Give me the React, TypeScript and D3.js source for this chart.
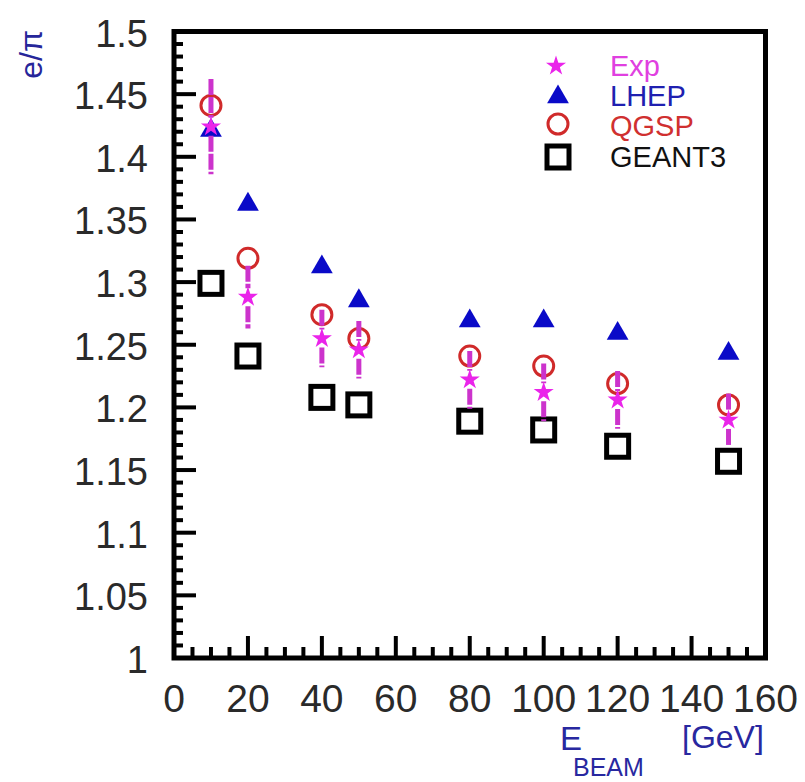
import * as d3 from "d3";

// beam energies [GeV]
const energies = [10, 20, 40, 50, 80, 100, 120, 150];
const expVals = [1.424, 1.288, 1.255, 1.246, 1.222, 1.212, 1.206, 1.19];
const expErrs = [0.038, 0.025, 0.023, 0.023, 0.023, 0.023, 0.023, 0.021];
const lhepVals = [1.421, 1.362, 1.312, 1.285, 1.269, 1.269, 1.259, 1.243];
const qgspVals = [1.441, 1.319, 1.274, 1.255, 1.241, 1.233, 1.219, 1.202];
const geant3Vals = [1.299, 1.241, 1.208, 1.202, 1.189, 1.182, 1.169, 1.157];

const xTicks = [0, 20, 40, 60, 80, 100, 120, 140, 160];
const yTicks = [1, 1.05, 1.1, 1.15, 1.2, 1.25, 1.3, 1.35, 1.4, 1.45, 1.5];
const legendNames = ["Exp", "LHEP", "QGSP", "GEANT3"];

const W = 805;
const H = 782;
const FONT = "'Liberation Sans', Arial, Helvetica, sans-serif";

const MAGENTA = "#ea24ea";
const BAR = "#cc33cc";
const BLUE = "#0a0ac8";
const RED = "#d02a2a";

const x = d3.scaleLinear().domain([0, 160]).range([174, 765.5]);
const y = d3.scaleLinear().domain([1, 1.5]).range([658, 31.5]);

const star = d3.symbol().type(d3.symbolStar).size(125)()!;
const tri = d3.symbol().type(d3.symbolTriangle).size(205)()!;

const Triangle = ({ cx, cy }: { cx: number; cy: number }) => (
  <path d={tri} transform={`translate(${cx},${cy})`} fill={BLUE} />
);
const Circle = ({ cx, cy }: { cx: number; cy: number }) => (
  <circle cx={cx} cy={cy} r={10} fill="none" stroke={RED} strokeWidth={3} />
);
const Square = ({ cx, cy }: { cx: number; cy: number }) => (
  <rect x={cx - 11} y={cy - 11} width={22} height={22} fill="none" stroke="#000" strokeWidth={5} />
);
const Star = ({ cx, cy }: { cx: number; cy: number }) => (
  <path d={star} transform={`translate(${cx},${cy})`} fill={MAGENTA} />
);

export default function App() {
  const xMinor = d3.range(0, 161, 5).filter((v) => v % 20 !== 0);
  const yMinor = d3.range(0, 51).map((i) => 1 + i * 0.01).filter((_, i) => i % 5 !== 0);
  const gap = 9;

  return (
    <svg
      width={W}
      height={H}
      style={{ position: "absolute", left: 0, top: 0, background: "#fff" }}
      fontFamily={FONT}
    >
      {/* axis ticks */}
      <g stroke="#000" strokeWidth={4}>
        {xTicks.map((t) => (
          <line key={"xM" + t} x1={x(t)} x2={x(t)} y1={y(1)} y2={y(1) - 22} />
        ))}
        {xMinor.map((t) => (
          <line key={"xm" + t} x1={x(t)} x2={x(t)} y1={y(1)} y2={y(1) - 11} />
        ))}
        {yTicks.map((t) => (
          <line key={"yM" + t} x1={x(0)} x2={x(0) + 22} y1={y(t)} y2={y(t)} />
        ))}
        {yMinor.map((t) => (
          <line key={"ym" + t} x1={x(0)} x2={x(0) + 9} y1={y(t)} y2={y(t)} />
        ))}
      </g>
      <rect
        x={x(0)}
        y={y(1.5)}
        width={x(160) - x(0)}
        height={y(1) - y(1.5)}
        fill="none"
        stroke="#000"
        strokeWidth={5}
      />

      {/* tick labels */}
      <g fontSize={38} fill="#2a2a2a" textAnchor="end">
        {yTicks.map((t) => (
          <text key={"yl" + t} x={148} y={y(t) + 2} dominantBaseline="central">
            {String(t)}
          </text>
        ))}
      </g>
      <g fontSize={39} fill="#2a2a2a" textAnchor="middle">
        {xTicks.map((t) => (
          <text key={"xl" + t} x={x(t)} y={712}>
            {t}
          </text>
        ))}
      </g>

      {/* axis titles */}
      <text
        transform="translate(42,30) rotate(-90)"
        textAnchor="end"
        fontSize={32}
        fill="#26269a"
      >
        e/π
      </text>
      <g fill="#2828a0">
        <text x={560} y={750} fontSize={33}>E</text>
        <text x={573} y={776} fontSize={25}>BEAM</text>
        <text x={682} y={748} fontSize={32}>[GeV]</text>
      </g>

      {/* data */}
      {energies.map((e, i) => (
        <Triangle key={"l" + e} cx={x(e)} cy={y(lhepVals[i])} />
      ))}
      {energies.map((e, i) => (
        <Circle key={"q" + e} cx={x(e)} cy={y(qgspVals[i])} />
      ))}
      {energies.map((e, i) => (
        <Square key={"g" + e} cx={x(e)} cy={y(geant3Vals[i])} />
      ))}
      <g stroke={BAR} strokeWidth={5} strokeDasharray="16 2">
        {energies.map((e, i) => {
          const cy = y(expVals[i]);
          return (
            <g key={"eb" + e}>
              <line x1={x(e)} x2={x(e)} y1={y(expVals[i] + expErrs[i])} y2={cy - gap} />
              <line x1={x(e)} x2={x(e)} y1={cy + gap} y2={y(expVals[i] - expErrs[i])} />
            </g>
          );
        })}
      </g>
      {energies.map((e, i) => (
        <Star key={"e" + e} cx={x(e)} cy={y(expVals[i])} />
      ))}

      {/* legend */}
      <Star cx={556} cy={66} />
      <Triangle cx={558} cy={97} />
      <Circle cx={558} cy={124} />
      <Square cx={558} cy={157} />
      <g fontSize={29}>
        <text x={610} y={76} fill="#e040e0">{legendNames[0]}</text>
        <text x={610} y={106} fill="#2020b0">{legendNames[1]}</text>
        <text x={610} y={136} fill="#d03030">{legendNames[2]}</text>
        <text x={610} y={167} fill="#111">{legendNames[3]}</text>
      </g>
    </svg>
  );
}
